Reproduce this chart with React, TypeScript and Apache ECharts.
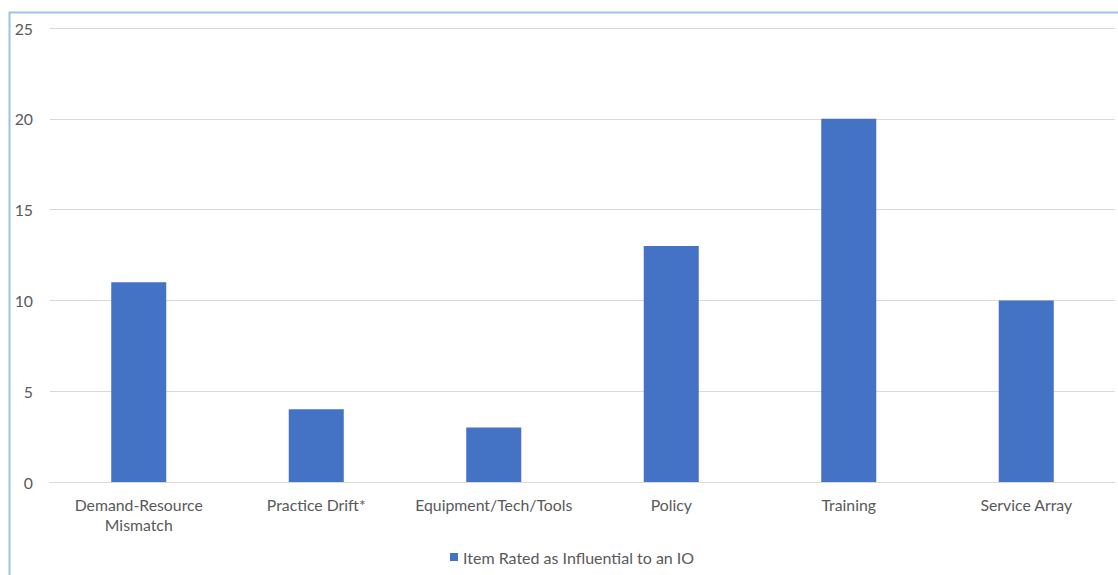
import React, { useEffect, useRef } from "react";
import * as echarts from "echarts";

const categories = [
  "Demand-Resource\nMismatch",
  "Practice Drift*",
  "Equipment/Tech/Tools",
  "Policy",
  "Training",
  "Service Array",
];
const seriesName = "Item Rated as Influential to an IO";
const values = [11, 4, 3, 13, 20, 10];
const yTicks = { min: 0, max: 25, interval: 5 };

const FONT = "Lato, 'Noto Sans', sans-serif";
const TEXT = "#595959";
const BAR = "#4472C4";
const GRID = "#D9D9D9";

export default function App() {
  const ref = useRef<HTMLDivElement>(null);

  useEffect(() => {
    if (!ref.current) return;
    const chart = echarts.init(ref.current, undefined, { renderer: "svg" });
    chart.setOption({
      animation: false,
      backgroundColor: "#ffffff",
      textStyle: { fontFamily: FONT },
      graphic: [
        {
          type: "rect",
          left: 7,
          top: 10,
          shape: { x: 0, y: 0, width: 1200, height: 700 },
          style: { fill: "none", stroke: "#9DC3E6", lineWidth: 2 },
          silent: true,
        },
      ],
      grid: { left: 50, right: 3, top: 28, bottom: 93, containLabel: false },
      legend: {
        bottom: 5,
        left: 445,
        itemWidth: 8,
        itemHeight: 8,
        itemGap: 6,
        icon: "rect",
        textStyle: { color: TEXT, fontSize: 16, fontFamily: FONT },
        data: [seriesName],
      },
      xAxis: {
        type: "category",
        data: categories,
        axisLine: { show: true, lineStyle: { color: GRID, width: 1 } },
        axisTick: { show: false },
        axisLabel: {
          color: TEXT,
          fontSize: 15.8,
          fontFamily: FONT,
          margin: 12,
          lineHeight: 20,
          interval: 0,
        },
      },
      yAxis: {
        type: "value",
        min: yTicks.min,
        max: yTicks.max,
        interval: yTicks.interval,
        axisLine: { show: false },
        axisTick: { show: false },
        splitLine: { lineStyle: { color: GRID, width: 1 } },
        axisLabel: { color: TEXT, fontSize: 15.8, fontFamily: FONT, margin: 17 },
      },
      series: [
        {
          name: seriesName,
          type: "bar",
          data: values,
          barWidth: "31%",
          itemStyle: { color: BAR },
        },
      ],
    });
    return () => chart.dispose();
  }, []);

  return (
    <div
      ref={ref}
      style={{ position: "absolute", left: 0, top: 0, width: 1118, height: 575 }}
    />
  );
}
